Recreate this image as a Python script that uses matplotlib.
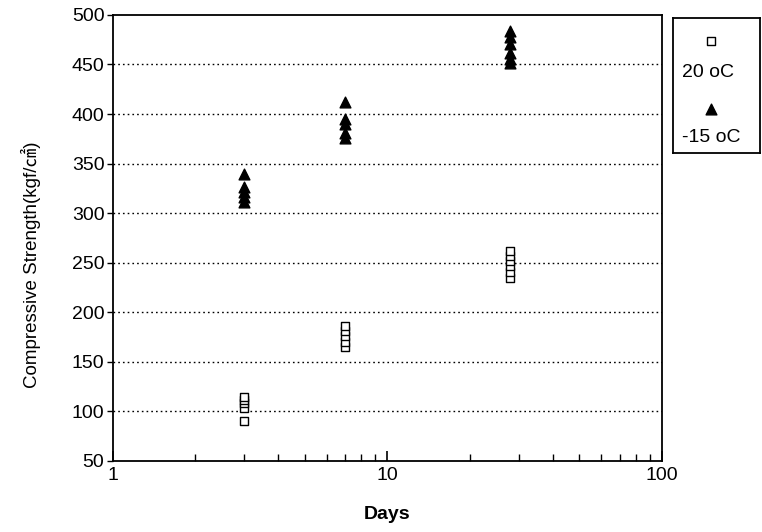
import numpy as np
import matplotlib.pyplot as plt
from matplotlib.ticker import LogLocator, NullFormatter, FixedLocator

plt.rcParams['font.family'] = ['Liberation Sans', 'Noto Sans CJK KR', 'DejaVu Sans']

# ---------------------------------------------------------------------------
# data
# ---------------------------------------------------------------------------
days_20 = [3, 3, 3, 3, 3,
           7, 7, 7, 7, 7,
           28, 28, 28, 28, 28, 28]
strength_20 = [90, 103, 108, 112, 115,
               165, 170, 176, 181, 186,
               235, 241, 247, 252, 257, 262]

days_m15 = [3, 3, 3, 3, 3,
            7, 7, 7, 7, 7,
            28, 28, 28, 28, 28, 28]
strength_m15 = [311, 316, 321, 326, 340,
                376, 381, 390, 395, 412,
                451, 456, 462, 471, 478, 484]

y_ticks = [50, 100, 150, 200, 250, 300, 350, 400, 450, 500]
x_ticks = [1, 10, 100]
labels = ["20 oC", "-15 oC"]

# ---------------------------------------------------------------------------
# figure
# ---------------------------------------------------------------------------
fig = plt.figure(figsize=(7.62, 5.32), dpi=100)
ax = fig.add_axes([0.148, 0.1335, 0.721, 0.8385])

ax.scatter(days_20, strength_20, marker="s", s=38, facecolors="white",
           edgecolors="black", linewidths=1.0, zorder=3)
ax.scatter(days_m15, strength_m15, marker="^", s=60, color="black", zorder=3)

ax.set_xscale("log")
ax.set_xlim(1, 100)
ax.set_ylim(50, 500)
ax.xaxis.set_major_locator(FixedLocator(x_ticks))
ax.set_xticklabels([str(t) for t in x_ticks])
ax.xaxis.set_minor_locator(LogLocator(base=10, subs=np.arange(2, 10)))
ax.xaxis.set_minor_formatter(NullFormatter())
ax.set_yticks(y_ticks)

ax.tick_params(axis="x", which="major", direction="in", length=7, width=1.2,
               labelsize=14, pad=4)
ax.tick_params(axis="x", which="minor", direction="in", length=5, width=1.0)
ax.tick_params(axis="y", direction="out", length=4, width=1.0, labelsize=14, pad=2)

# dotted horizontal grid
for y in y_ticks[1:-1]:
    ax.axhline(y, color="black", linestyle=(0, (1.2, 2.2)), linewidth=1.0, zorder=1)

for sp in ax.spines.values():
    sp.set_linewidth(1.3)

ax.set_xlabel("Days", fontsize=14, fontweight="bold", labelpad=16)
ax.set_ylabel("Compressive Strength(kgf/㎠)", fontsize=13.5)
ax.yaxis.set_label_coords(-0.13, 0.44)

# legend box, markers above labels
lax = fig.add_axes([0.883, 0.712, 0.115, 0.254])
lax.set_xlim(0, 1)
lax.set_ylim(0, 1)
lax.set_xticks([])
lax.set_yticks([])
for sp in lax.spines.values():
    sp.set_linewidth(1.3)
lax.scatter([0.44], [0.83], marker="s", s=38, facecolors="white",
            edgecolors="black", linewidths=1.0)
lax.text(0.10, 0.60, labels[0], fontsize=14, va="center", ha="left")
lax.scatter([0.44], [0.33], marker="^", s=60, color="black")
lax.text(0.10, 0.12, labels[1], fontsize=14, va="center", ha="left")

fig.savefig("out.png", dpi=100)
